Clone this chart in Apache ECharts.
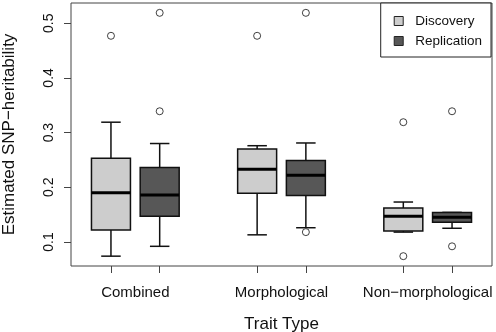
<!DOCTYPE html>
<html>
<head>
    <meta charset="utf-8">
    <title>SNP heritability boxplot</title>
    <script src="https://cdn.jsdelivr.net/npm/echarts@6/dist/echarts.min.js"></script>
    <style>
        body { margin: 0; background: #fff; }
    </style>
</head>
<body>
    <div id="chart" style="width: 496px;height:332px;"></div>
    <script type="text/javascript">
        // groups and box positions on the x scale
        var categories = ['Combined', 'Morphological', 'Non\u2212morphological'];
        var discPos = [1, 4, 7];
        var replPos = [2, 5, 8];
        // [low whisker, Q1, median, Q3, high whisker]
        var discovery = [
            [0.074, 0.122, 0.190, 0.253, 0.319],
            [0.113, 0.189, 0.233, 0.270, 0.276],
            [0.118, 0.120, 0.147, 0.162, 0.173]
        ];
        var replication = [
            [0.092, 0.147, 0.186, 0.236, 0.280],
            [0.126, 0.185, 0.222, 0.249, 0.281],
            [0.125, 0.136, 0.145, 0.154, 0.154]
        ];
        var discOutliers = [[0.477], [0.477], [0.319, 0.074]];
        var replOutliers = [[0.339, 0.519], [0.519, 0.118], [0.339, 0.092]];
        var yTicks = [0.1, 0.2, 0.3, 0.4, 0.5];

        var chart = echarts.init(document.getElementById('chart'));

        function boxData(pos, stats) {
            return stats.map(function (s, i) { return [pos[i]].concat(s); });
        }
        function outlierData(pos, outs) {
            var res = [];
            outs.forEach(function (list, i) {
                list.forEach(function (v) { res.push([pos[i], v]); });
            });
            return res;
        }

        function renderBox(params, api) {
            var x = api.value(0);
            var half = 0.4;
            var pLow = api.coord([x, api.value(1)]);
            var pQ1 = api.coord([x, api.value(2)]);
            var pMed = api.coord([x, api.value(3)]);
            var pQ3 = api.coord([x, api.value(4)]);
            var pHigh = api.coord([x, api.value(5)]);
            var left = api.coord([x - half, 0])[0];
            var right = api.coord([x + half, 0])[0];
            var capL = api.coord([x - half / 2, 0])[0];
            var capR = api.coord([x + half / 2, 0])[0];
            var line = { stroke: '#111', lineWidth: 1.5, fill: null };
            return {
                type: 'group',
                children: [
                    { type: 'line', shape: { x1: pHigh[0], y1: pHigh[1], x2: pQ3[0], y2: pQ3[1] }, style: line },
                    { type: 'line', shape: { x1: pLow[0], y1: pLow[1], x2: pQ1[0], y2: pQ1[1] }, style: line },
                    { type: 'line', shape: { x1: capL, y1: pHigh[1], x2: capR, y2: pHigh[1] }, style: line },
                    { type: 'line', shape: { x1: capL, y1: pLow[1], x2: capR, y2: pLow[1] }, style: line },
                    { type: 'rect', shape: { x: left, y: pQ3[1], width: right - left, height: pQ1[1] - pQ3[1] },
                      style: { fill: api.visual('color'), stroke: '#111', lineWidth: 1.5 } },
                    { type: 'line', shape: { x1: left, y1: pMed[1], x2: right, y2: pMed[1] },
                      style: { stroke: '#000', lineWidth: 3 } }
                ]
            };
        }

        var labelMap = {};
        var labelVals = [];
        categories.forEach(function (c, i) {
            var mid = (discPos[i] + replPos[i]) / 2;
            labelMap[mid] = c;
            labelVals.push(mid);
        });

        var option = {
            animation: false,
            textStyle: { fontFamily: 'Liberation Sans, Arial, sans-serif' },
            grid: { left: 71, right: 4, top: 3, bottom: 66, show: true, borderColor: '#444', borderWidth: 1,
                    outerBoundsMode: 'none', containLabel: false },
            legend: {
                data: ['Discovery', 'Replication'],
                orient: 'vertical',
                right: 5, top: 3,
                padding: [11, 9, 9, 13],
                itemGap: 6,
                itemWidth: 9, itemHeight: 9,
                icon: 'rect',
                borderColor: '#222', borderWidth: 1,
                backgroundColor: '#fff',
                itemStyle: { borderColor: '#222', borderWidth: 1 },
                textStyle: { fontSize: 13.5, color: '#111', padding: [0, 0, 0, 7] }
            },
            xAxis: {
                type: 'value', min: 0.18, max: 8.82,
                splitLine: { show: false },
                axisLine: { show: false },
                axisTick: { show: true, length: 7, customValues: discPos.concat(replPos),
                            lineStyle: { color: '#444' } },
                axisLabel: { customValues: labelVals, margin: 19, fontSize: 15, color: '#111',
                             formatter: function (v) { return labelMap[v] || ''; } },
                name: 'Trait Type', nameLocation: 'middle', nameGap: 50,
                nameTextStyle: { fontSize: 17, color: '#111' }
            },
            yAxis: {
                type: 'value', min: 0.056, max: 0.537,
                splitLine: { show: false },
                axisLine: { show: false },
                axisTick: { show: true, length: 7, customValues: yTicks, lineStyle: { color: '#444' } },
                axisLabel: { customValues: yTicks, rotate: 90, margin: 15, fontSize: 14, color: '#111',
                             formatter: function (v) { return v.toFixed(1); } },
                name: 'Estimated SNP\u2212heritability', nameLocation: 'middle', nameGap: 53,
                nameTextStyle: { fontSize: 17, color: '#111' }
            },
            series: [
                { name: 'Discovery', type: 'custom', renderItem: renderBox,
                  itemStyle: { color: '#cdcdcd' }, encode: { x: 0, y: [1, 2, 3, 4, 5] },
                  data: boxData(discPos, discovery) },
                { name: 'Replication', type: 'custom', renderItem: renderBox,
                  itemStyle: { color: '#575757' }, encode: { x: 0, y: [1, 2, 3, 4, 5] },
                  data: boxData(replPos, replication) },
                { name: 'outliers', type: 'scatter', symbol: 'circle', symbolSize: 7,
                  itemStyle: { color: '#fff', borderColor: '#111', borderWidth: 1 },
                  data: outlierData(discPos, discOutliers).concat(outlierData(replPos, replOutliers)) }
            ]
        };
        chart.setOption(option);
    </script>
</body>
</html>
